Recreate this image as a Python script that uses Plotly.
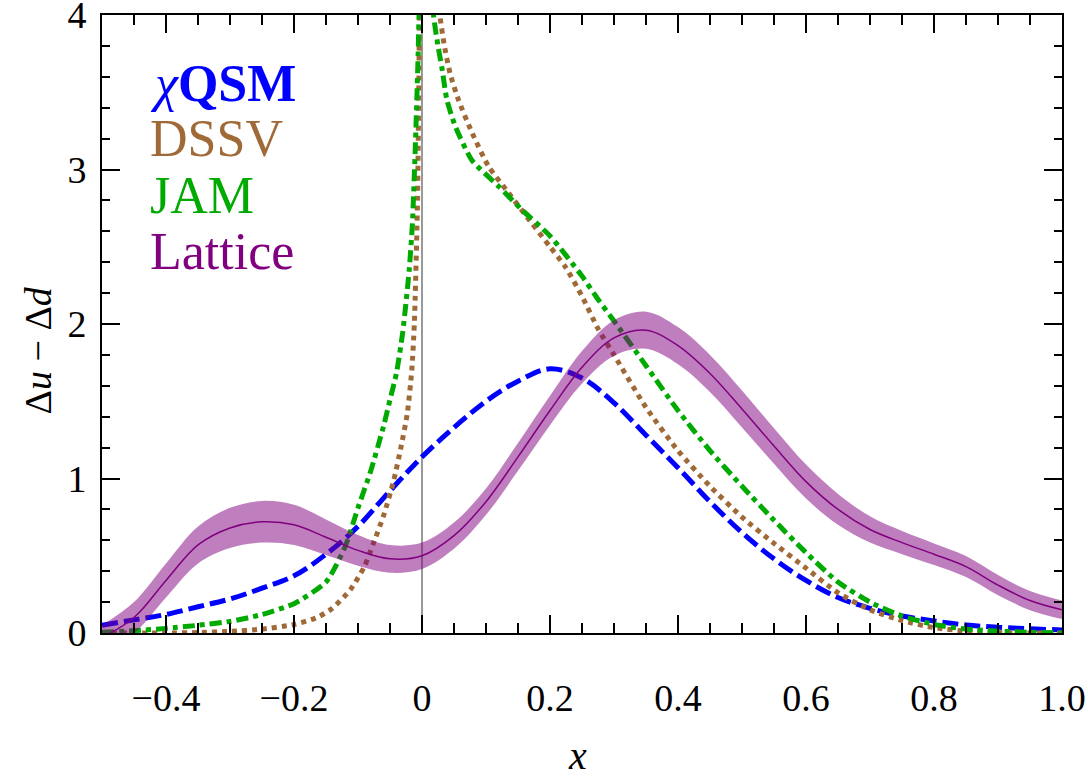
import plotly.graph_objects as go

# ---- data ----
x_qsm = [-0.5, -0.45, -0.4, -0.35, -0.3, -0.25, -0.2, -0.15, -0.1, -0.05, 0.0, 0.05, 0.1, 0.15, 0.2,
         0.25, 0.3, 0.35, 0.4, 0.45, 0.5, 0.55, 0.6, 0.65, 0.7, 0.75, 0.8, 0.85, 0.9, 0.95, 1.0]
y_qsm = [0.05, 0.085, 0.12, 0.17, 0.22, 0.29, 0.37, 0.51, 0.69, 0.92, 1.14, 1.33, 1.50, 1.63, 1.71,
         1.65, 1.49, 1.28, 1.07, 0.85, 0.65, 0.48, 0.34, 0.23, 0.16, 0.11, 0.078, 0.052, 0.037, 0.027, 0.02]

x_dssv_l = [-0.5, -0.4, -0.35, -0.3, -0.25, -0.2, -0.164, -0.14, -0.112, -0.09, -0.076, -0.06, -0.044,
            -0.033, -0.023, -0.016, -0.012, -0.007, -0.004, -0.003]
y_dssv_l = [0.0, 0.0, 0.003, 0.01, 0.025, 0.055, 0.10, 0.16, 0.28, 0.43, 0.58, 0.76, 0.99,
            1.2, 1.42, 1.7, 2.0, 2.8, 4.0, 4.5]
x_dssv_r = [0.025, 0.028, 0.035, 0.044, 0.057, 0.078, 0.104, 0.135, 0.172, 0.2, 0.224, 0.25, 0.275,
            0.3, 0.35, 0.4, 0.45, 0.5, 0.55, 0.6, 0.65, 0.7, 0.75, 0.8, 0.85, 0.9, 0.95, 1.0]
y_dssv_r = [4.3, 4.0, 3.8, 3.62, 3.45, 3.24, 3.02, 2.85, 2.65, 2.50, 2.37, 2.18, 1.97,
            1.80, 1.46, 1.18, 0.95, 0.75, 0.58, 0.42, 0.26, 0.15, 0.08, 0.035, 0.012, 0.003, 0.0, 0.0]

x_jam_l = [-0.5, -0.45, -0.4, -0.35, -0.3, -0.25, -0.2, -0.15, -0.12, -0.1, -0.08, -0.06, -0.05, -0.04,
           -0.03, -0.02, -0.015, -0.01, -0.006, -0.003]
y_jam_l = [0.005, 0.015, 0.03, 0.05, 0.075, 0.12, 0.19, 0.33, 0.56, 0.81, 1.05, 1.34, 1.51, 1.68,
           1.95, 2.35, 2.65, 3.2, 3.75, 4.3]
x_jam_r = [0.015, 0.018, 0.025, 0.031, 0.039, 0.052, 0.078, 0.12, 0.156, 0.2, 0.25, 0.275,
           0.3, 0.35, 0.4, 0.45, 0.5, 0.55, 0.6, 0.65, 0.7, 0.75, 0.8, 0.85, 0.9, 0.95, 1.0]
y_jam_r = [4.3, 4.0, 3.8, 3.66, 3.45, 3.28, 3.06, 2.89, 2.74, 2.57, 2.31, 2.16,
           2.02, 1.73, 1.44, 1.18, 0.95, 0.73, 0.52, 0.33, 0.2, 0.11, 0.055, 0.025, 0.012, 0.005, 0.0]

x_lat = [-0.5, -0.45, -0.4, -0.35, -0.3, -0.25, -0.2, -0.15, -0.1, -0.05, 0.0, 0.05, 0.1, 0.15, 0.2,
         0.25, 0.3, 0.35, 0.4, 0.45, 0.5, 0.55, 0.6, 0.65, 0.7, 0.75, 0.8, 0.85, 0.9, 0.95, 1.0]
y_lat = [-0.03, 0.10, 0.34, 0.57, 0.68, 0.72, 0.70, 0.62, 0.535, 0.48, 0.50, 0.63, 0.85, 1.14, 1.44,
         1.72, 1.91, 1.96, 1.86, 1.68, 1.45, 1.21, 0.98, 0.80, 0.67, 0.585, 0.51, 0.43, 0.31, 0.21, 0.15]
e_lat = [0.08, 0.10, 0.11, 0.12, 0.13, 0.135, 0.13, 0.115, 0.10, 0.09, 0.085, 0.085, 0.085, 0.09, 0.095,
         0.105, 0.115, 0.12, 0.12, 0.12, 0.12, 0.115, 0.11, 0.10, 0.085, 0.075, 0.07, 0.068, 0.065, 0.062, 0.06]

x_ticks = [-0.4, -0.2, 0.0, 0.2, 0.4, 0.6, 0.8, 1.0]
x_ticktext = ["\u22120.4", "\u22120.2", "0", "0.2", "0.4", "0.6", "0.8", "1.0"]
y_ticks = [0, 1, 2, 3, 4]
y_ticktext = ["0", "1", "2", "3", "4"]

legend_names = ["<i>\u03c7</i><b>QSM</b>", "DSSV", "JAM", "Lattice"]

BLUE = "rgb(0,0,255)"
BROWN = "rgb(160,106,56)"
GREEN = "rgb(0,170,0)"
PURPLE = "rgb(128,0,128)"
FONT = "Liberation Serif"

fig = go.Figure()

# vertical reference line at x = 0
fig.add_trace(go.Scatter(x=[0, 0], y=[0, 4], mode="lines",
                         line=dict(color="rgba(0,0,0,0.8)", width=1), showlegend=False, hoverinfo="skip"))

W = 5
fig.add_trace(go.Scatter(x=x_qsm, y=y_qsm, mode="lines", line=dict(color=BLUE, width=W, dash="16px,6px", shape="spline"),
                         showlegend=False))
for xs, ys in [(x_dssv_l, y_dssv_l), (x_dssv_r, y_dssv_r)]:
    fig.add_trace(go.Scatter(x=xs, y=ys, mode="lines",
                             line=dict(color=BROWN, width=W, dash="5px,5px", shape="spline", smoothing=0.6),
                             showlegend=False))
for xs, ys in [(x_jam_l, y_jam_l), (x_jam_r, y_jam_r)]:
    fig.add_trace(go.Scatter(x=xs, y=ys, mode="lines",
                             line=dict(color=GREEN, width=W, dash="12px,5px,5px,5px", shape="spline", smoothing=0.6),
                             showlegend=False))

# lattice band
up = [y + e for y, e in zip(y_lat, e_lat)]
lo = [y - e for y, e in zip(y_lat, e_lat)]
fig.add_trace(go.Scatter(x=x_lat, y=up, mode="lines", line=dict(width=0, shape="spline"),
                         showlegend=False, hoverinfo="skip"))
fig.add_trace(go.Scatter(x=x_lat, y=lo, mode="lines", line=dict(width=0, shape="spline"),
                         fill="tonexty", fillcolor="rgba(128,0,128,0.5)", showlegend=False, hoverinfo="skip"))
fig.add_trace(go.Scatter(x=x_lat, y=y_lat, mode="lines", line=dict(color=PURPLE, width=1.5, shape="spline"),
                         showlegend=False))

axis_common = dict(showline=True, linewidth=2, linecolor="black", mirror="allticks",
                   ticks="inside", tickwidth=1.5, tickcolor="black", ticklen=18,
                   showgrid=False, zeroline=False, automargin=False, ticklabeloverflow="allow",
                   tickfont=dict(family=FONT, size=38, color="black"))

fig.update_xaxes(range=[-0.5, 1.0], tickmode="array", tickvals=x_ticks, ticktext=x_ticktext,
                 ticklabelstandoff=30,
                 minor=dict(dtick=0.05, tick0=0, ticks="inside", ticklen=10, tickwidth=1.5, tickcolor="black"),
                 **axis_common)
fig.update_yaxes(range=[0, 4], tickmode="array", tickvals=y_ticks, ticktext=y_ticktext,
                 ticklabelstandoff=6,
                 minor=dict(dtick=0.2, tick0=0, ticks="inside", ticklen=8, tickwidth=1.5, tickcolor="black"),
                 **axis_common)

annotations = [
    dict(text="\u0394<i>u</i> \u2212 \u0394<i>d</i>", xref="paper", yref="paper",
         x=(38 - 101.7) / 960, y=(632.7 - 350) / 617.7, textangle=-90, showarrow=False,
         xanchor="center", yanchor="middle", font=dict(family=FONT, size=38, color="black")),
    dict(text="<i>x</i>", xref="paper", yref="paper",
         x=(577 - 101.7) / 960, y=(632.7 - 780) / 617.7, showarrow=False,
         xanchor="center", yanchor="bottom", font=dict(family=FONT, size=40, color="black")),
]
leg_colors = [BLUE, BROWN, GREEN, PURPLE]
leg_y = [83, 138, 195, 251]
for name, col, py in zip(legend_names, leg_colors, leg_y):
    annotations.append(dict(text=name, xref="paper", yref="paper",
                            x=(148 - 101.7) / 960, y=(632.7 - py) / 617.7, showarrow=False,
                            xanchor="left", yanchor="middle",
                            font=dict(family=FONT, size=52, color=col)))

fig.update_layout(width=1088, height=781, margin=dict(l=102, r=26, t=15, b=148),
                  paper_bgcolor="white", plot_bgcolor="white", annotations=annotations,
                  showlegend=False)

fig.write_html("out.html")
